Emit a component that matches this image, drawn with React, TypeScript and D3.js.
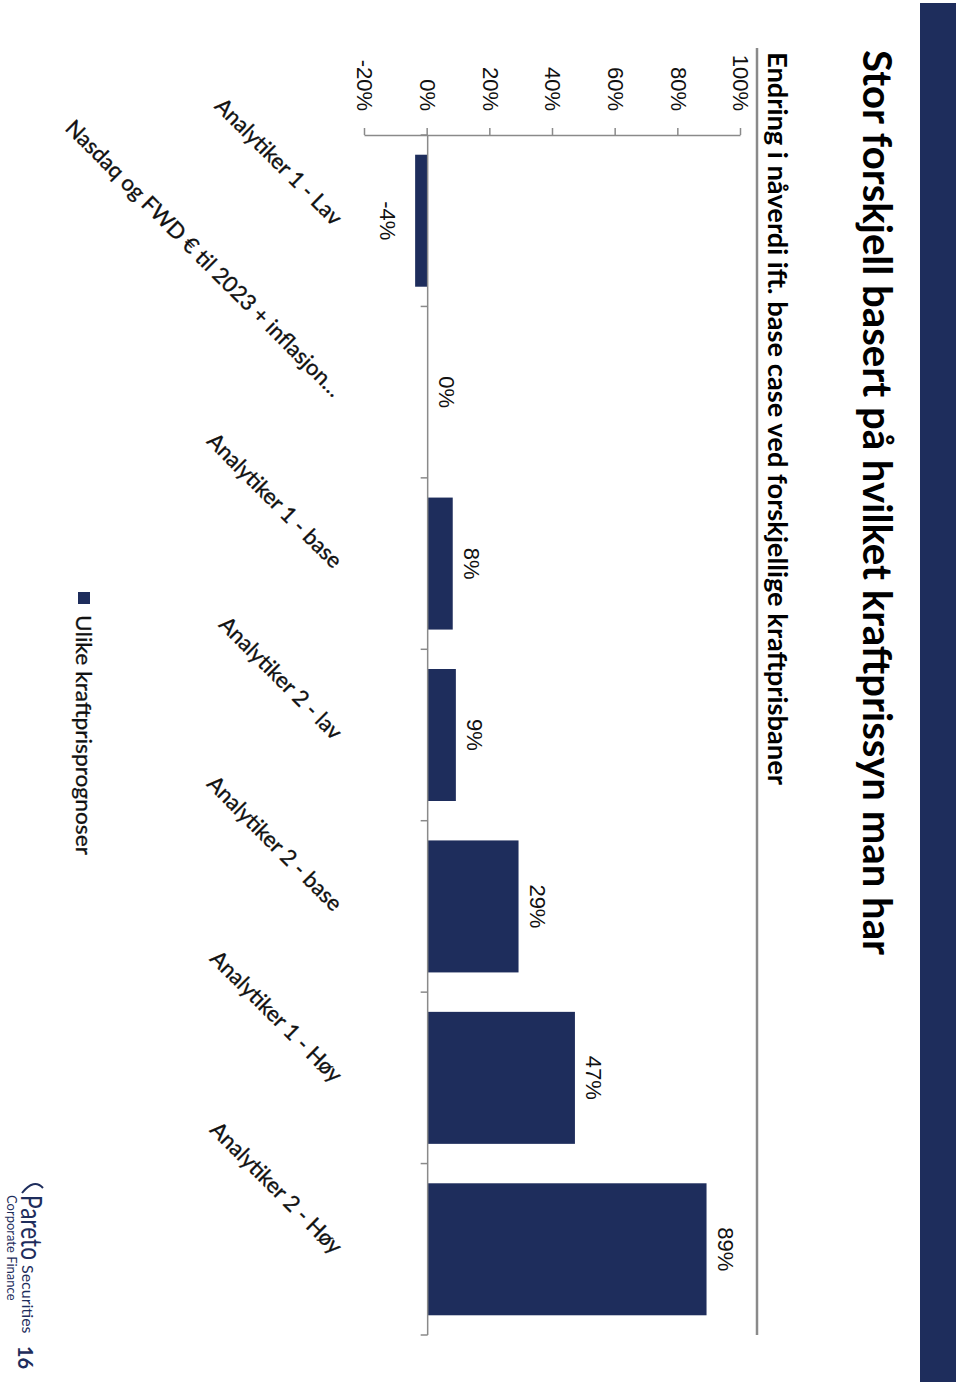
import React, { useEffect, useRef } from "react";
import * as d3 from "d3";

const categories = [
  "Analytiker 1 - Lav",
  "Nasdaq og FWD € til 2023 + inflasjon…",
  "Analytiker 1 - base",
  "Analytiker 2 - lav",
  "Analytiker 2 - base",
  "Analytiker 1 - Høy",
  "Analytiker 2 - Høy",
];
const values = [-0.04, 0, 0.08, 0.09, 0.29, 0.47, 0.89];
const valueLabels = ["-4%", "0%", "8%", "9%", "29%", "47%", "89%"];
const valueTicks = [-0.2, 0, 0.2, 0.4, 0.6, 0.8, 1.0];
const seriesName = "Ulike kraftprisprognoser";
const title = "Stor forskjell basert på hvilket kraftprissyn man har";
const subtitle = "Endring i nåverdi ift. base case ved forskjellige kraftprisbaner";

const NAVY = "#1e2d5c";
const GRAY = "#8a8a8a";

// slide is drawn in landscape coordinates and then turned 90deg clockwise
const SLIDE_W = 1385;
const SLIDE_H = 960;

const App = () => {
  const axisRef = useRef<SVGGElement>(null);

  const x = d3
    .scaleBand()
    .domain(categories)
    .range([135, 1335])
    .paddingInner(0.23)
    .paddingOuter(0.115);

  const y = d3.scaleLinear().domain([-0.2, 1.0]).range([595, 219]);

  useEffect(() => {
    const g = d3.select(axisRef.current);
    g.selectAll("*").remove();
    g.call(
      d3
        .axisLeft(y)
        .tickValues(valueTicks)
        .tickSize(7)
        .tickSizeOuter(0)
        .tickPadding(17)
        .tickFormat((d) => `${Math.round(+d * 100)}%`)
    );
    g.select(".domain").attr("stroke", GRAY).attr("stroke-width", 1.5);
    g.selectAll(".tick line").attr("stroke", GRAY).attr("stroke-width", 1.5);
    g.selectAll(".tick text")
      .attr("fill", "#111")
      .style("font-family", "'Liberation Sans', Arial, sans-serif")
      .style("font-size", "22px");
  }, []);

  const step = x.step();
  const catTicks = d3.range(categories.length + 1).map((i) => 135 + i * step);

  return (
    <div style={{ position: "absolute", left: 0, top: 0 }}>
      <svg width={960} height={1385} style={{ display: "block", background: "#fff" }}>
        <g transform={`translate(${SLIDE_H},0) rotate(90)`}>
          <rect x={0} y={0} width={SLIDE_W} height={SLIDE_H} fill="#fff" />
          {/* header band */}
          <rect x={3} y={4} width={1379} height={36} fill={NAVY} />
          <text
            x={50}
            y={97}
            fontFamily="Lato, 'Open Sans', sans-serif"
            fontWeight="bold"
            fontSize={40}
            textLength={905}
            lengthAdjust="spacingAndGlyphs"
            fill="#000"
          >
            {title}
          </text>
          <text
            x={52}
            y={192}
            fontFamily="Lato, 'Open Sans', sans-serif"
            fontWeight="bold"
            fontSize={27}
            textLength={733}
            lengthAdjust="spacingAndGlyphs"
            fill="#000"
          >
            {subtitle}
          </text>
          <line x1={48} x2={1335} y1={203} y2={203} stroke={GRAY} strokeWidth={2.5} />

          {/* value axis */}
          <g ref={axisRef} transform="translate(135,0)" />

          {/* bars */}
          {values.map((v, i) => (
            <rect
              key={categories[i]}
              x={x(categories[i])}
              width={x.bandwidth()}
              y={Math.min(y(v), y(0))}
              height={Math.abs(y(v) - y(0))}
              fill={NAVY}
            />
          ))}

          {/* category axis */}
          <line x1={135} x2={1335} y1={y(0)} y2={y(0)} stroke={GRAY} strokeWidth={1.5} />
          {catTicks.map((t, i) => (
            <line key={i} x1={t} x2={t} y1={y(0)} y2={y(0) + 7} stroke={GRAY} strokeWidth={1.5} />
          ))}

          {/* data labels */}
          {values.map((v, i) => (
            <text
              key={"l" + i}
              x={(x(categories[i]) as number) + x.bandwidth() / 2}
              y={v < 0 ? y(v) + 35 : y(v) - 11}
              textAnchor="middle"
              fontFamily="'Liberation Sans', Arial, sans-serif"
              fontSize={22}
              fill="#111"
            >
              {valueLabels[i]}
            </text>
          ))}

          {/* category labels */}
          {categories.map((c) => {
            const cx = (x(c) as number) + x.bandwidth() / 2 + 6;
            const cy = 627;
            return (
              <text
                key={"c" + c}
                transform={`translate(${cx},${cy}) rotate(-45)`}
                textAnchor="end"
                fontFamily="Lato, 'Open Sans', sans-serif"
                fontSize={22}
                fill="#111"
                stroke="#111"
                strokeWidth={0.35}
              >
                {c}
              </text>
            );
          })}

          {/* legend */}
          <rect x={592} y={870} width={12} height={12} fill={NAVY} />
          <text
            x={615}
            y={884}
            fontFamily="Lato, 'Open Sans', sans-serif"
            fontSize={22}
            textLength={240}
            lengthAdjust="spacingAndGlyphs"
            fill="#111"
            stroke="#111"
            strokeWidth={0.3}
          >
            {seriesName}
          </text>

          {/* footer logo */}
          <path d="M1193,938 Q1178,926 1188,917" fill="none" stroke={NAVY} strokeWidth={2} />
          <text
            x={1195}
            y={939}
            fontFamily="Lato, sans-serif"
            fontSize={28}
            textLength={65}
            lengthAdjust="spacingAndGlyphs"
            fill={NAVY}
          >
            Pareto
          </text>
          <text x={1265} y={938} fontFamily="Lato, sans-serif" fontSize={16} fill={NAVY}>
            Securities
          </text>
          <text x={1195} y={953} fontFamily="Lato, sans-serif" fontSize={13} fill={NAVY}>
            Corporate Finance
          </text>
          <text x={1346} y={942} fontFamily="Lato, sans-serif" fontWeight="bold" fontSize={20} fill={NAVY}>
            16
          </text>
        </g>
      </svg>
    </div>
  );
};

export default App;
